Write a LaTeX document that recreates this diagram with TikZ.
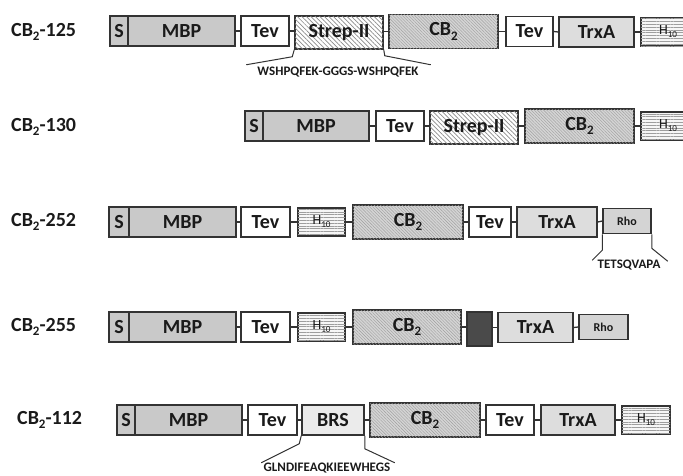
\documentclass[tikz,border=0pt]{standalone}
\usepackage{fontspec}
\setmainfont{Carlito}
\usetikzlibrary{patterns.meta}
\definecolor{edge}{HTML}{333333}
\definecolor{txt}{HTML}{1A1A1A}
\definecolor{graymbp}{HTML}{C9C9C9}
\definecolor{cbgray}{HTML}{D4D4D4}
\definecolor{hatchc}{HTML}{8C8C8C}
\definecolor{hatchl}{HTML}{9E9E9E}
\definecolor{trxgray}{HTML}{DDDDDD}
\definecolor{rhogray}{HTML}{D4D4D4}
\definecolor{brsgray}{HTML}{EBEBEB}
\definecolor{darkbox}{HTML}{4A4A4A}
\definecolor{hisback}{HTML}{F6F6F6}
\newcommand\dbox[6][]{\node[dom,#1,minimum width={(#4-#3)*1pt}] (#2) at ({(#3+#4)/2},#5) {#6};}
\newcommand\lowsub[1]{\raisebox{-0.45ex}{\fontsize{0.65em}{0.65em}\selectfont #1}}
\begin{document}
\begin{tikzpicture}[x=1pt,y=-1pt,
  dom/.style={draw=edge, line width=1.5pt, inner sep=0pt, minimum height=30pt,
    font=\bfseries\fontsize{20}{20}\selectfont, text=txt},
  mbp/.style={fill=graymbp},
  tev/.style={fill=white},
  strep/.style={fill=white, minimum height=33pt,
    postaction={pattern={Lines[angle=-45,distance=3.2pt,line width=0.7pt]}, pattern color=hatchc}},
  cbtwo/.style={fill=cbgray, minimum height=34pt,
    postaction={pattern={Lines[angle=-45,distance=2.2pt,line width=0.4pt]}, pattern color=hatchl}},
  trx/.style={fill=trxgray},
  his/.style={fill=hisback, minimum height=28pt,
    font=\fontsize{14}{14}\selectfont,
    postaction={pattern={Lines[angle=0,distance=2.8pt,line width=0.45pt]}, pattern color=hatchl}},
  rho/.style={fill=rhogray, minimum height=25pt, font=\bfseries\fontsize{12}{12}\selectfont},
  brs/.style={fill=brsgray},
  dark/.style={fill=darkbox, minimum height=34pt},
  conn/.style={draw=edge, line width=1.3pt},
  lbl/.style={anchor=west, inner sep=0pt, font=\bfseries\fontsize{20}{20}\selectfont, text=txt},
  call/.style={inner sep=0pt, font=\bfseries\fontsize{13}{13}\selectfont, text=txt}
]
\useasboundingbox (0,0) rectangle (683,475);
\clip (0,0) rectangle (683,475);

% ---------- Row 1: CB2-125
\node[lbl] (l1) at (11,32) {CB\lowsub{2}-125};
\dbox[mbp]{a1}{110}{128}{31}{S}
\dbox[mbp]{a2}{128}{235}{31}{MBP}
\dbox[tev]{a3}{241}{289}{31}{Tev}
\dbox[strep]{a4}{295}{383}{32.5}{Strep-II}
\dbox[cbtwo]{a5}{389}{498}{31.5}{CB\lowsub{2}}
\dbox[tev]{a6}{506}{553}{31.5}{Tev}
\dbox[trx]{a7}{559}{634}{32}{TrxA}
\dbox[his]{a8}{641}{695}{32}{H\lowsub{10}}
\draw[conn] (a2.east) -- (a3.west);
\draw[conn] (a3.east) -- (a4.west |- a3.east);
\draw[conn] (a4.east |- a5.west) -- (a5.west);
\draw[conn] (a5.east) -- (a6.west);
\draw[conn] (a6.east) -- (a7.west);
\draw[conn] (a7.east) -- (a8.west);
\node[call] (c1) at (338,72) {WSHPQFEK-GGGS-WSHPQFEK};
\draw[conn, line width=1pt] (a4.south west) -- ++(-2,7) -- ++(-46,8);
\draw[conn, line width=1pt] (a4.south east) -- ++(1,6) -- ++(46,9);

% ---------- Row 2: CB2-130
\node[lbl] (l2) at (11,127) {CB\lowsub{2}-130};
\dbox[mbp]{b1}{245}{263}{126}{S}
\dbox[mbp]{b2}{263}{369}{126}{MBP}
\dbox[tev]{b3}{376}{424}{126}{Tev}
\dbox[strep]{b4}{430}{518}{127.5}{Strep-II}
\dbox[cbtwo]{b5}{525}{634}{126}{CB\lowsub{2}}
\dbox[his]{b6}{641}{695}{126}{H\lowsub{10}}
\draw[conn] (b2.east) -- (b3.west);
\draw[conn] (b3.east) -- (b4.west |- b3.east);
\draw[conn] (b4.east |- b5.west) -- (b5.west);
\draw[conn] (b5.east) -- (b6.west);

% ---------- Row 3: CB2-252
\node[lbl] (l3) at (11,222) {CB\lowsub{2}-252};
\dbox[mbp]{d1}{109}{129}{222}{S}
\dbox[mbp]{d2}{129}{236}{222}{MBP}
\dbox[tev]{d3}{241}{290}{222}{Tev}
\dbox[his]{d4}{298}{345}{222}{H\lowsub{10}}
\dbox[cbtwo]{d5}{353}{463}{222}{CB\lowsub{2}}
\dbox[tev]{d6}{469}{511}{222}{Tev}
\dbox[trx]{d7}{517}{597}{222}{TrxA}
\dbox[rho]{d8}{603}{651}{221}{Rho}
\draw[conn] (d2.east) -- (d3.west);
\draw[conn] (d3.east) -- (d4.west);
\draw[conn] (d4.east) -- (d5.west);
\draw[conn] (d5.east) -- (d6.west);
\draw[conn] (d6.east) -- (d7.west);
\draw[conn] (d7.east) -- (d8.west);
\node[call] (c3) at (629,265) {TETSQVAPA};
\draw[conn, line width=1pt] (d8.south west) -- ++(0,16) -- ++(-10,10);
\draw[conn, line width=1pt] (d8.south east) -- ++(0,14) -- ++(16,13);

% ---------- Row 4: CB2-255
\node[lbl] (l4) at (11,327) {CB\lowsub{2}-255};
\dbox[mbp]{e1}{109}{129}{327}{S}
\dbox[mbp]{e2}{129}{236}{327}{MBP}
\dbox[tev]{e3}{241}{290}{327}{Tev}
\dbox[his]{e4}{298}{345}{327}{H\lowsub{10}}
\dbox[cbtwo]{e5}{353}{461}{327}{CB\lowsub{2}}
\dbox[dark]{e6}{467}{492}{329}{}
\dbox[trx]{e7}{498}{573}{327.5}{TrxA}
\dbox[rho]{e8}{579}{628}{327}{Rho}
\draw[conn] (e2.east) -- (e3.west);
\draw[conn] (e3.east) -- (e4.west);
\draw[conn] (e4.east) -- (e5.west);
\draw[conn] (e5.east) -- (e6.west |- e5.east);
\draw[conn] (e6.east |- e7.west) -- (e7.west);
\draw[conn] (e7.east) -- (e8.west);

% ---------- Row 5: CB2-112
\node[lbl] (l5) at (17,420) {CB\lowsub{2}-112};
\dbox[mbp]{f1}{117}{135}{420}{S}
\dbox[mbp]{f2}{135}{242}{420}{MBP}
\dbox[tev]{f3}{248}{297}{420}{Tev}
\dbox[brs]{f4}{302}{364}{420}{BRS}
\dbox[cbtwo]{f5}{370}{480}{420}{CB\lowsub{2}}
\dbox[tev]{f6}{486}{534}{420}{Tev}
\dbox[trx]{f7}{541}{615}{420}{TrxA}
\dbox[his]{f8}{622}{670}{420}{H\lowsub{10}}
\draw[conn] (f2.east) -- (f3.west);
\draw[conn] (f3.east) -- (f4.west);
\draw[conn] (f4.east) -- (f5.west);
\draw[conn] (f5.east) -- (f6.west);
\draw[conn] (f6.east) -- (f7.west);
\draw[conn] (f7.east) -- (f8.west);
\node[call] (c5) at (327,468) {GLNDIFEAQKIEEWHEGS};
\draw[conn, line width=1pt] (f4.south west) -- ++(-2,8) -- ++(-38,19);
\draw[conn, line width=1pt] (f4.south east) -- ++(0,13) -- ++(30,14);
\end{tikzpicture}
\end{document}
